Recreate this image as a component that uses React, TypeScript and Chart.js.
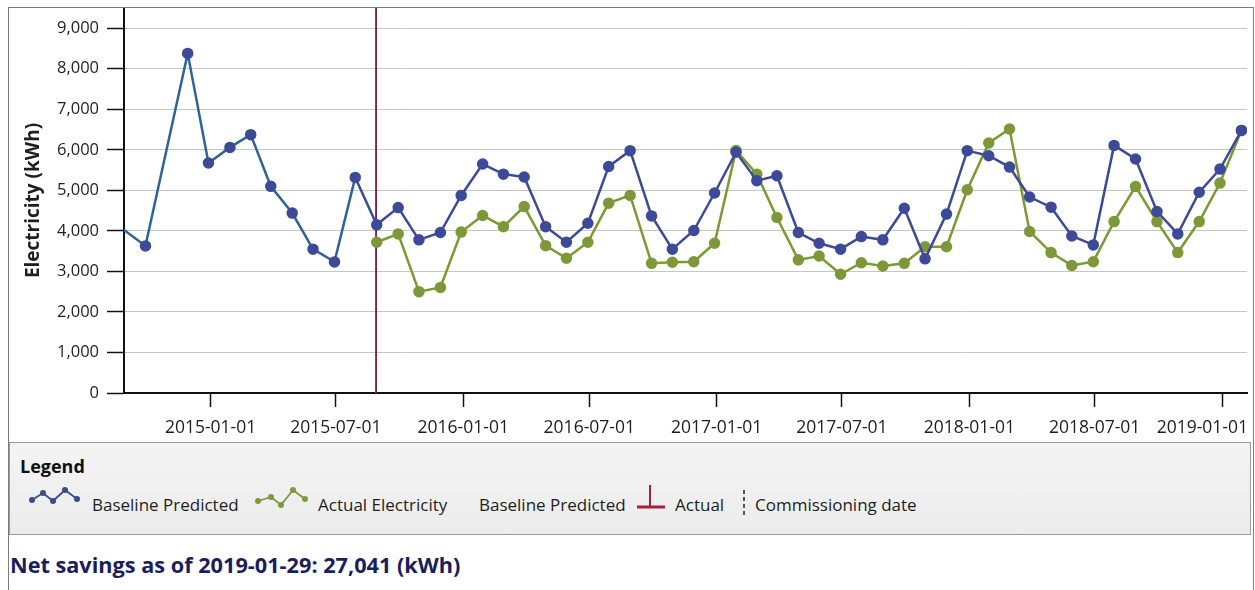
import React, { useEffect, useRef } from 'react';
import { Chart, registerables } from 'chart.js';

Chart.register(...registerables);

// ---- Data ----
const baselineDates = [
  '2014-08-29', '2014-09-29', '2014-11-29', '2014-12-29',
  '2015-01-29', '2015-02-28', '2015-03-29', '2015-04-29', '2015-05-29', '2015-06-29',
  '2015-07-29', '2015-08-29', '2015-09-29', '2015-10-29', '2015-11-29', '2015-12-29',
  '2016-01-29', '2016-02-28', '2016-03-29', '2016-04-29', '2016-05-29', '2016-06-29',
  '2016-07-29', '2016-08-29', '2016-09-29', '2016-10-29', '2016-11-29', '2016-12-29',
  '2017-01-29', '2017-02-28', '2017-03-29', '2017-04-29', '2017-05-29', '2017-06-29',
  '2017-07-29', '2017-08-29', '2017-09-29', '2017-10-29', '2017-11-29', '2017-12-29',
  '2018-01-29', '2018-02-28', '2018-03-29', '2018-04-29', '2018-05-29', '2018-06-29',
  '2018-07-29', '2018-08-29', '2018-09-29', '2018-10-29', '2018-11-29', '2018-12-29',
  '2019-01-29',
];
const baselineValues = [
  4025, 3630, 8380, 5675,
  6060, 6375, 5100, 4440, 3550, 3235,
  5320, 4150, 4575, 3780, 3960, 4875,
  5650, 5400, 5330, 4105, 3720, 4190,
  5590, 5980, 4370, 3550, 4010, 4935,
  5940, 5240, 5360, 3960, 3695, 3550,
  3860, 3780, 4560, 3310, 4415, 5980,
  5855, 5575, 4835, 4585, 3875, 3655,
  6110, 5775, 4480, 3925, 4955, 5525,
  6480,
];
const actualDates = [
  '2015-08-29', '2015-09-29', '2015-10-29', '2015-11-29', '2015-12-29',
  '2016-01-29', '2016-02-28', '2016-03-29', '2016-04-29', '2016-05-29', '2016-06-29',
  '2016-07-29', '2016-08-29', '2016-09-29', '2016-10-29', '2016-11-29', '2016-12-29',
  '2017-01-29', '2017-02-28', '2017-03-29', '2017-04-29', '2017-05-29', '2017-06-29',
  '2017-07-29', '2017-08-29', '2017-09-29', '2017-10-29', '2017-11-29', '2017-12-29',
  '2018-01-29', '2018-02-28', '2018-03-29', '2018-04-29', '2018-05-29', '2018-06-29',
  '2018-07-29', '2018-08-29', '2018-09-29', '2018-10-29', '2018-11-29', '2018-12-29',
  '2019-01-29',
];
const actualValues = [
  3720, 3925, 2500, 2605, 3970,
  4380, 4105, 4600, 3635, 3325, 3720,
  4685, 4875, 3200, 3225, 3240, 3695,
  5985, 5400, 4330, 3285, 3380, 2930,
  3215, 3135, 3200, 3610, 3610, 5015,
  6170, 6515, 3985, 3465, 3145, 3240,
  4230, 5095, 4230, 3465, 4230, 5180,
  6480,
];
const xTickLabels = [
  '2015-01-01', '2015-07-01', '2016-01-01', '2016-07-01', '2017-01-01',
  '2017-07-01', '2018-01-01', '2018-07-01', '2019-01-01',
];
const yTickValues = [0, 1000, 2000, 3000, 4000, 5000, 6000, 7000, 8000, 9000];
const xRange = ['2014-08-29', '2019-02-06'];
const commissioningDate = '2015-08-28';
const yMin = 0;
const yMax = 9500;

const seriesNames = ['Baseline Predicted', 'Actual Electricity'];
const legendExtra = ['Baseline Predicted', 'Actual', 'Commissioning date'];
const yTitle = 'Electricity (kWh)';
const netSavingsText = 'Net savings as of 2019-01-29: 27,041 (kWh)';

const toMs = (s: string) => Date.parse(s + 'T00:00:00Z');

const FONT = '"Open Sans", "Noto Sans", sans-serif';
const BLUE = '#3d4a98';
const BLUE_PRE = '#2f6596';
const GREEN = '#7b9a30';

const CANVAS_W = 1243;
const CANVAS_H = 434;

function ChartCanvas() {
  const ref = useRef<HTMLCanvasElement | null>(null);
  useEffect(() => {
    if (!ref.current) return;
    const commMs = toMs(commissioningDate);

    const commissioningPlugin = {
      id: 'commissioning',
      beforeDatasetsDraw(chart: any) {
        const { ctx, chartArea, scales } = chart;
        const px = Math.round(scales.x.getPixelForValue(commMs));
        ctx.save();
        ctx.fillStyle = '#c0283c';
        ctx.fillRect(px - 1, chartArea.top, 1, chartArea.bottom - chartArea.top);
        ctx.fillStyle = '#7a2348';
        ctx.fillRect(px, chartArea.top, 1, chartArea.bottom - chartArea.top);
        ctx.restore();
      },
    };

    const xLabelPlugin = {
      id: 'xLabels',
      afterDraw(chart: any) {
        const { ctx, scales, width } = chart;
        const x = scales.x;
        ctx.save();
        ctx.font = `17.5px ${FONT}`;
        ctx.fillStyle = '#1e1e1e';
        ctx.textAlign = 'center';
        ctx.textBaseline = 'middle';
        const y = x.bottom - 14;
        xTickLabels.forEach((l) => {
          const w = ctx.measureText(l).width;
          let px = x.getPixelForValue(toMs(l));
          px = Math.min(px, width - 4 - w / 2);
          ctx.fillText(l, px, y);
        });
        ctx.restore();
      },
    };

    const chart = new Chart(ref.current, {
      type: 'line',
      data: {
        datasets: [
          {
            label: seriesNames[1],
            data: actualDates.map((d, i) => ({ x: toMs(d), y: actualValues[i] })),
            borderColor: GREEN,
            backgroundColor: '#7d9838',
            pointBackgroundColor: '#7d9838',
            pointBorderColor: '#7d9838',
            borderWidth: 2.5,
            pointRadius: 4.5,
            tension: 0,
            order: 2,
          },
          {
            label: seriesNames[0],
            data: baselineDates.map((d, i) => ({ x: toMs(d), y: baselineValues[i] })),
            borderColor: BLUE,
            backgroundColor: BLUE,
            pointBackgroundColor: BLUE,
            pointBorderColor: BLUE,
            borderWidth: 2.5,
            pointRadius: (c: any) => (c.dataIndex === 0 ? 0 : 4.5),
            tension: 0,
            order: 1,
            segment: {
              borderColor: (c: any) => (c.p1.parsed.x <= commMs ? BLUE_PRE : BLUE),
            },
          },
        ],
      },
      options: {
        animation: false,
        responsive: false,
        maintainAspectRatio: false,
        devicePixelRatio: 1,
        layout: { autoPadding: false, padding: { left: 0, right: 5, top: 0, bottom: 0 } },
        plugins: { legend: { display: false }, tooltip: { enabled: false } },
        scales: {
          x: {
            type: 'linear',
            min: toMs(xRange[0]),
            max: toMs(xRange[1]),
            afterBuildTicks: (axis: any) => {
              axis.ticks = xTickLabels.map((l) => ({ value: toMs(l) }));
            },
            afterFit: (axis: any) => {
              axis.height = 49;
              axis.paddingLeft = 0;
              axis.paddingRight = 0;
            },
            ticks: { display: false, autoSkip: false },
            grid: {
              drawOnChartArea: false,
              drawTicks: true,
              tickLength: 14,
              tickColor: '#111',
              tickWidth: 1.5,
            },
            border: { color: '#111', width: 2 },
          },
          y: {
            type: 'linear',
            min: yMin,
            max: yMax,
            afterBuildTicks: (axis: any) => {
              axis.ticks = yTickValues.map((v) => ({ value: v }));
            },
            afterFit: (axis: any) => {
              axis.width = 115;
              axis.paddingTop = 0;
              axis.paddingBottom = 0;
            },
            ticks: {
              autoSkip: false,
              padding: 8,
              color: '#1e1e1e',
              font: { family: FONT, size: 16.5 },
              callback: (v: any) => Number(v).toLocaleString('en-US'),
            },
            grid: {
              color: '#c6c6c6',
              lineWidth: 1,
              tickLength: 17,
              tickColor: '#111',
              tickWidth: 1.5,
            },
            border: { color: '#111', width: 2 },
            title: {
              display: true,
              text: yTitle,
              color: '#1e1e1e',
              font: { family: FONT, size: 19, weight: 'bold' },
              padding: { top: 13, bottom: 0 },
            },
          },
        },
      },
      plugins: [commissioningPlugin, xLabelPlugin],
    } as any);
    return () => chart.destroy();
  }, []);
  return <canvas ref={ref} width={CANVAS_W} height={CANVAS_H} style={{ display: 'block', width: CANVAS_W, height: CANVAS_H }} />;
}

function Zigzag({ color, pts }: { color: string; pts: number[][] }) {
  const p = pts.map((q) => q.join(',')).join(' ');
  return (
    <svg width={56} height={26} style={{ position: 'absolute', left: 0, top: 0 }}>
      <polyline points={p} fill="none" stroke={color} strokeWidth={1.8} />
      {pts.map((q, i) => (
        <circle key={i} cx={q[0]} cy={q[1]} r={3} fill={color} />
      ))}
    </svg>
  );
}

const abs = (left: number, top: number, extra: any = {}) => ({ position: 'absolute' as const, left, top, ...extra });

export default function App() {
  const itemStyle = (left: number) =>
    abs(left, 493, { fontFamily: FONT, fontSize: 17, lineHeight: '24px', color: '#1e1e1e', whiteSpace: 'nowrap' });
  return (
    <div style={{ position: 'absolute', left: 0, top: 0, width: 1255, height: 590, background: '#fff', overflow: 'hidden' }}>
      {/* outer frame */}
      <div style={abs(8, 7, { width: 1244, height: 600, borderLeft: '1px solid #7c7c7c', borderTop: '1px solid #7c7c7c', borderRight: '1px solid #7c7c7c' })} />
      <div style={abs(9, 8)}>
        <ChartCanvas />
      </div>
      {/* legend box */}
      <div
        style={abs(9, 442, {
          width: 1240,
          height: 91,
          background: 'linear-gradient(#f4f4f4, #ececec)',
          border: '1px solid #9a9a9a',
        })}
      />
      <div style={abs(20, 453, { fontFamily: FONT, fontSize: 18, fontWeight: 'bold', lineHeight: '26px', color: '#111' })}>Legend</div>
      <div style={abs(27, 487, { width: 56, height: 26 })}>
        <Zigzag color="#3d4a8e" pts={[[5, 13], [16, 6], [26, 14], [38, 3], [50, 12]]} />
      </div>
      <div style={itemStyle(92)}>{seriesNames[0]}</div>
      <div style={abs(253, 487, { width: 56, height: 26 })}>
        <Zigzag color="#7f9a3a" pts={[[5, 14], [18, 10], [28, 18], [40, 3], [52, 12]]} />
      </div>
      <div style={itemStyle(318)}>{seriesNames[1]}</div>
      <div style={itemStyle(479)}>{legendExtra[0]}</div>
      <svg width={34} height={30} style={abs(634, 483)}>
        <line x1={16} y1={2} x2={16} y2={24} stroke="#a3233f" strokeWidth={2} />
        <line x1={3} y1={24} x2={31} y2={24} stroke="#a3233f" strokeWidth={3} />
      </svg>
      <div style={itemStyle(675)}>{legendExtra[1]}</div>
      <svg width={6} height={30} style={abs(741, 488)}>
        <line x1={3} y1={2} x2={3} y2={27} stroke="#555" strokeWidth={2} strokeDasharray="4 3" />
      </svg>
      <div style={itemStyle(755)}>{legendExtra[2]}</div>
      <div style={abs(10, 550, { fontFamily: FONT, fontSize: 21.7, fontWeight: 'bold', lineHeight: '30px', color: '#1b1d5c', whiteSpace: 'nowrap' })}>
        {netSavingsText}
      </div>
    </div>
  );
}
